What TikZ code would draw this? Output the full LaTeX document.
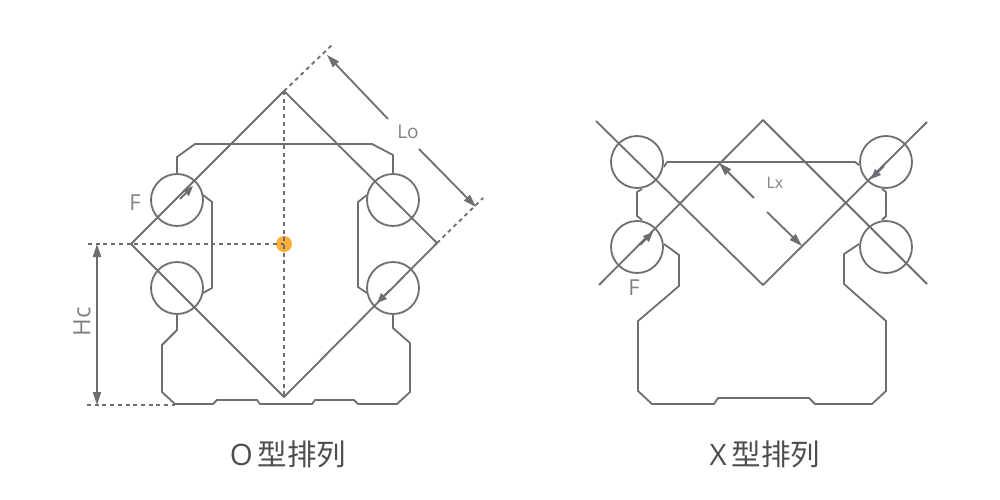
\documentclass[tikz,border=0pt]{standalone}
\usepackage{fontspec}
\setmainfont{Open Sans}
\newfontfamily\cjkfont{Noto Sans CJK SC}
\usetikzlibrary{arrows.meta}
\definecolor{linegray}{HTML}{6D6E71}
\definecolor{labelgray}{HTML}{808285}
\definecolor{titlegray}{HTML}{4D4D4D}
\definecolor{centerorange}{HTML}{FBB03B}

\begin{document}
\begin{tikzpicture}[x=1pt,y=-1pt,line join=round,
  every node/.style={inner sep=0pt,outer sep=0pt},
  body/.style={draw=linegray,line width=1.8pt},
  helper/.style={draw=linegray,line width=1.8pt,dash pattern=on 4pt off 3.7pt},
  ball/.style={circle,draw=linegray,line width=1.8pt,minimum size=52pt},
  dimarrow/.style={draw=linegray,line width=1.8pt,-{Stealth[length=13pt,width=8pt,inset=0pt]}},
  forcearrow/.style={draw=linegray,line width=1.8pt,-{Stealth[length=10pt,width=8pt,inset=0pt]}},
  smalllabel/.style={text=labelgray,font=\fontsize{16}{16}\selectfont},
  biglabel/.style={text=labelgray,font=\fontsize{22}{22}\selectfont},
  caption/.style={text=titlegray,font=\fontsize{29.5}{30}\selectfont}
]
\useasboundingbox (0,0) rectangle (1000,500);

% O type
\coordinate (otop) at (284,91);
\coordinate (oleft) at (131,244);
\coordinate (obottom) at (284,397);
\coordinate (oright) at (437,243);
\coordinate (ocenter) at (284,244);

\node[circle,fill=centerorange,minimum size=16pt] (opoint) at (ocenter) {};

\foreach \ballname/\ballx/\bally in {olt/177/200,olb/177/288,ort/393/200,orb/393/288}
  \node[ball] (\ballname) at (\ballx,\bally) {};

\draw[body] (otop) -- (oright) -- (obottom) -- (oleft) -- cycle;

% O body
\draw[body] (olt.north) -- (177,157) -- (195,144) -- (372,144) -- (393,155) -- (ort.north);
\draw[body] (203,195) -- (212,202) -- (212,288) -- (203,293);
\draw[body] (367,195) -- (358,202) -- (358,287) -- (367,293);
\draw[body] (olb.south) -- (177,330) -- (162,345) -- (162,392) -- (175,404) -- (213,404)
  -- (217,400) -- (257,400) -- (260,404) -- (312,404) -- (315,400) -- (354,400)
  -- (358,404) -- (397,404) -- (410,392) -- (410,343) -- (393,328) -- (orb.south);

% O dashed
\coordinate (hcfoot) at (87,405);
\coordinate (hcbase) at (175,405);
\coordinate (hctop) at (88,244);
\coordinate (lofar) at (332,45);
\coordinate (lonear) at (483,198);
\draw[helper] (hctop) -- (ocenter);
\draw[helper] (otop) -- (obottom);
\draw[helper] (hcfoot) -- (hcbase);
\draw[helper] (otop) -- (lofar);
\draw[helper] (oright) -- (lonear);

% O arrows
\draw[dimarrow,{Stealth[length=13pt,width=8pt,inset=0pt]}-{Stealth[length=13pt,width=8pt,inset=0pt]}] (97,244) -- (97,405);
\draw[dimarrow] (388,119) -- (327,55);
\draw[dimarrow] (419,149) -- (476,207);
\draw[forcearrow] (180,199) -- (193,186);
\draw[forcearrow] (390,290) -- (377,303);

\node[biglabel] (oforce) at (135,203) {F};
\node[smalllabel,font=\fontsize{19}{19}\selectfont] (lolabel) at (408,132) {Lo};
\node[biglabel,rotate=90,font=\fontsize{24}{24}\selectfont] (hclabel) at (82,322) {Hc};
\node[caption] (otitle) at (288,454) {O\hspace{5pt}{\cjkfont 型排列}};

% X type
\coordinate (xtop) at (763,120);
\coordinate (xbottom) at (763,285);

\foreach \ballname/\ballx/\bally in {xlt/637/162,xlb/637/247,xrt/886/162,xrb/886/247}
  \node[ball] (\ballname) at (\ballx,\bally) {};

\draw[body] (596,121) -- (xbottom) -- (927,122);
\draw[body] (599,285) -- (xtop) -- (927,284);

% X body
\draw[body] (664,167) -- (667,162) -- (855,162) -- (859,165);
\draw[body] (642,189) -- (637,192) -- (637,216) -- (642,220);
\draw[body] (882,189) -- (886,192) -- (886,216) -- (882,220);
\draw[body] (664,244) -- (679,255) -- (679,286) -- (638,321) -- (638,391) -- (652,404)
  -- (714,404) -- (718,398) -- (809,398) -- (815,404) -- (872,404) -- (886,391)
  -- (886,321) -- (844,284) -- (844,254) -- (859,244);

% X arrows
\draw[dimarrow] (754,198) -- (719,163);
\draw[dimarrow] (767,212) -- (802,246);
\draw[forcearrow] (640,245) -- (653,232);
\draw[forcearrow] (884,166) -- (871,179);

\node[biglabel] (xforce) at (634,288) {F};
\node[smalllabel] (lxlabel) at (775,183) {Lx};
\node[caption] (xtitle) at (765,454) {X\hspace{5pt}{\cjkfont 型排列}};

\end{tikzpicture}
\end{document}
